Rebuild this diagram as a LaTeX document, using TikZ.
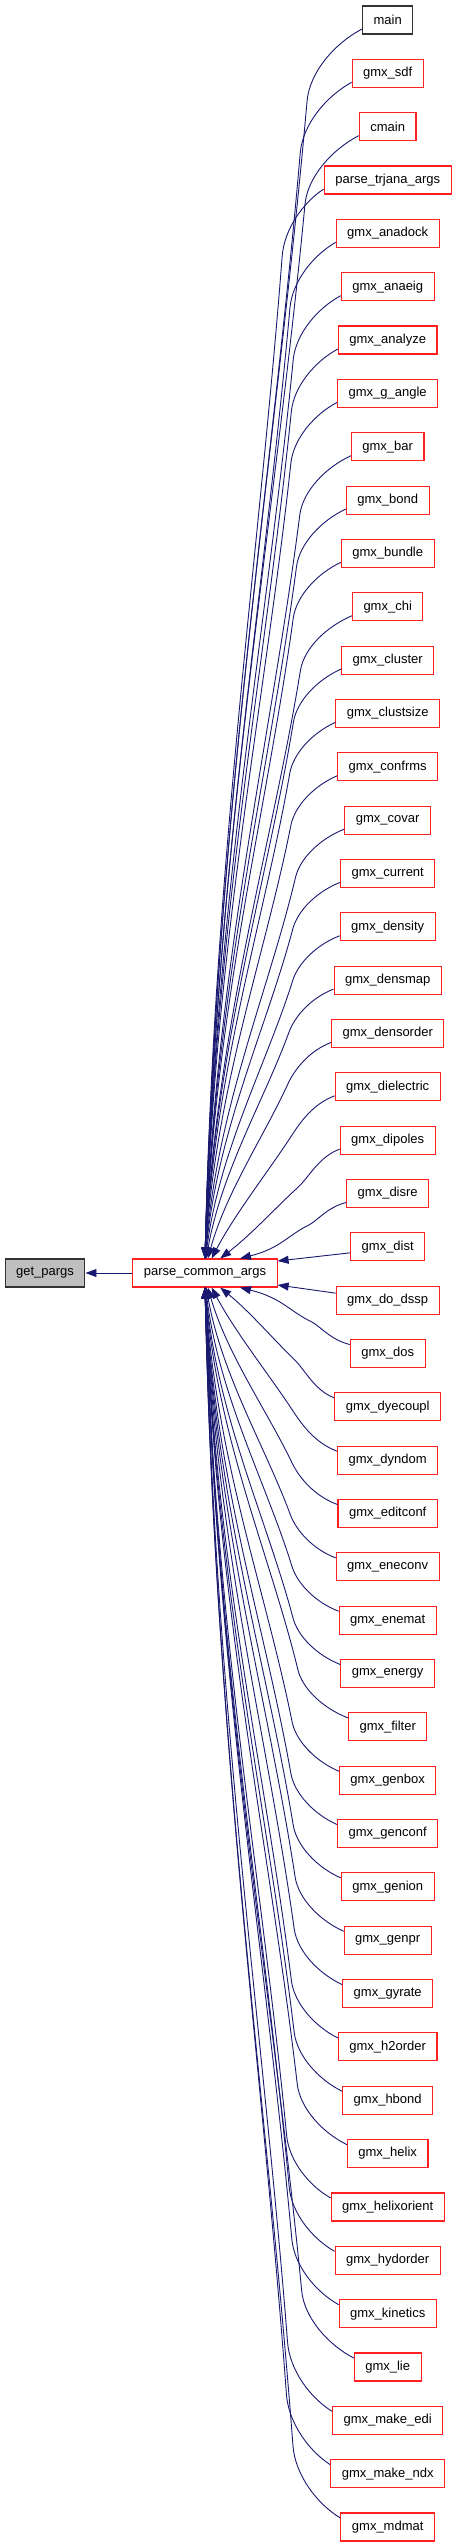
\documentclass[tikz,border=0pt]{standalone}
\usepackage{fontspec}
\setmainfont{Liberation Sans}
\usetikzlibrary{arrows.meta}
\definecolor{edgeblue}{HTML}{191970}
\definecolor{boxred}{HTML}{FF2020}
\definecolor{rootgray}{HTML}{BFBFBF}
\tikzset{
  fnbox/.style={draw=boxred, line width=1.1pt, fill=white, minimum height=28pt,
    inner xsep=11pt, inner ysep=0pt, font=\fontsize{13}{15}\selectfont},
  mainbox/.style={fnbox, draw=black!80},
  rootbox/.style={fnbox, draw=black!80, fill=rootgray},
  edge/.style={draw=edgeblue, line width=0.9pt, -{Triangle[length=11pt,width=8pt]}}
}
% computes the control points of a caller edge
\newcommand\callergeom[5]{% #1 sx, #2 sy, #3 ex, #4 ny, #5 k ; uses \sgn
  \pgfmathsetmacro\dxx{#1-#3}
  \pgfmathsetmacro\dyy{abs(#2-#4)}
  \pgfmathsetmacro\ox{0.35*\dxx}
  \pgfmathsetmacro\oy{min(35+0.03*\dyy,0.4*\dyy)}
  \pgfmathsetmacro\soy{\sgn*\oy}
  \pgfmathsetmacro\bx{#1-\ox}
  \pgfmathsetmacro\by{#2-\soy}
  \pgfmathsetmacro\cax{#1-0.5*\ox}
  \pgfmathsetmacro\cay{#2-0.2*\soy}
  \pgfmathsetmacro\lx{#3-\bx}
  \pgfmathsetmacro\ly{#4-\by}
  \pgfmathsetmacro\lenv{100*veclen(\lx/100,\ly/100)}
  \pgfmathsetmacro\ww{0.4*\oy}
  \pgfmathsetmacro\rat{\ww/\lenv}
  \pgfmathsetmacro\cbx{\bx-\rat*\lx}
  \pgfmathsetmacro\cby{\by-\rat*\ly}
  \pgfmathsetmacro\ccx{\bx+0.3*\lx}
  \pgfmathsetmacro\ccy{\by+0.3*\ly}
  \pgfmathsetmacro\fa{0.08+0.3*exp(-(#5-1)/2)}
  \pgfmathsetmacro\ga{0.4-0.1*exp(-(#5-1)/2)}
  \pgfmathsetmacro\cdx{#3+\fa*\dxx}
  \pgfmathsetmacro\cdy{#4+\ga*(\by-#4)}
}
\begin{document}
\begin{tikzpicture}[x=1pt,y=-1pt]
\useasboundingbox (0,0) rectangle (456,2547);
\node[rootbox] (gp) at (45,1273) {get\_pargs};
\node[fnbox] (pca) at (205,1273) {parse\_common\_args};
\node[mainbox] (c0) at (387.7,20) {main};
\foreach \n [count=\i from 1] in {gmx\_sdf, cmain, parse\_trjana\_args, gmx\_anadock, gmx\_anaeig, gmx\_analyze, gmx\_g\_angle, gmx\_bar, gmx\_bond, gmx\_bundle, gmx\_chi, gmx\_cluster, gmx\_clustsize, gmx\_confrms, gmx\_covar, gmx\_current, gmx\_density, gmx\_densmap, gmx\_densorder, gmx\_dielectric, gmx\_dipoles, gmx\_disre, gmx\_dist, gmx\_do\_dssp, gmx\_dos, gmx\_dyecoupl, gmx\_dyndom, gmx\_editconf, gmx\_eneconv, gmx\_enemat, gmx\_energy, gmx\_filter, gmx\_genbox, gmx\_genconf, gmx\_genion, gmx\_genpr, gmx\_gyrate, gmx\_h2order, gmx\_hbond, gmx\_helix, gmx\_helixorient, gmx\_hydorder, gmx\_kinetics, gmx\_lie, gmx\_make\_edi, gmx\_make\_ndx, gmx\_mdmat}{
  \node[fnbox] (c\i) at (387.7,{20+53.34*\i}) {\n};
}
\draw[edge] (pca.west) -- (gp.east);
% upper callers
\path (pca.north west); \pgfgetlastxy{\nwx}{\ny}
\foreach \i in {0,...,22}{
  \pgfmathsetmacro\k{23-\i}
  \def\sgn{1}
  \path ([yshift=-9pt]c\i.west); \pgfgetlastxy{\sx}{\sy}
  \pgfmathsetmacro\ex{205+35*exp(-(\k-1)/1.2)}
  \pgfmathsetmacro\exs{\ex-\nwx}
  \callergeom{\sx}{\sy}{\ex}{\ny}{\k}
  \draw[edge] ([yshift=-9pt]c\i.west) .. controls (\cax pt,\cay pt) and (\cbx pt,\cby pt) .. (\bx pt,\by pt)
     .. controls (\ccx pt,\ccy pt) and (\cdx pt,\cdy pt) .. ([xshift=\exs pt]pca.north west);
}
% lower callers
\path (pca.south west); \pgfgetlastxy{\swx}{\sny}
\foreach \i in {25,...,47}{
  \pgfmathsetmacro\k{\i-24}
  \def\sgn{-1}
  \path ([yshift=9pt]c\i.west); \pgfgetlastxy{\sx}{\sy}
  \pgfmathsetmacro\ex{205+35*exp(-(\k-1)/1.2)}
  \pgfmathsetmacro\exs{\ex-\swx}
  \callergeom{\sx}{\sy}{\ex}{\sny}{\k}
  \draw[edge] ([yshift=9pt]c\i.west) .. controls (\cax pt,\cay pt) and (\cbx pt,\cby pt) .. (\bx pt,\by pt)
     .. controls (\ccx pt,\ccy pt) and (\cdx pt,\cdy pt) .. ([xshift=\exs pt]pca.south west);
}
\draw[edge] ([yshift=-6pt]c23.west) -- ([yshift=12pt]pca.east);
\draw[edge] ([yshift=7pt]c24.west) -- ([yshift=-12pt]pca.east);
\end{tikzpicture}
\end{document}
